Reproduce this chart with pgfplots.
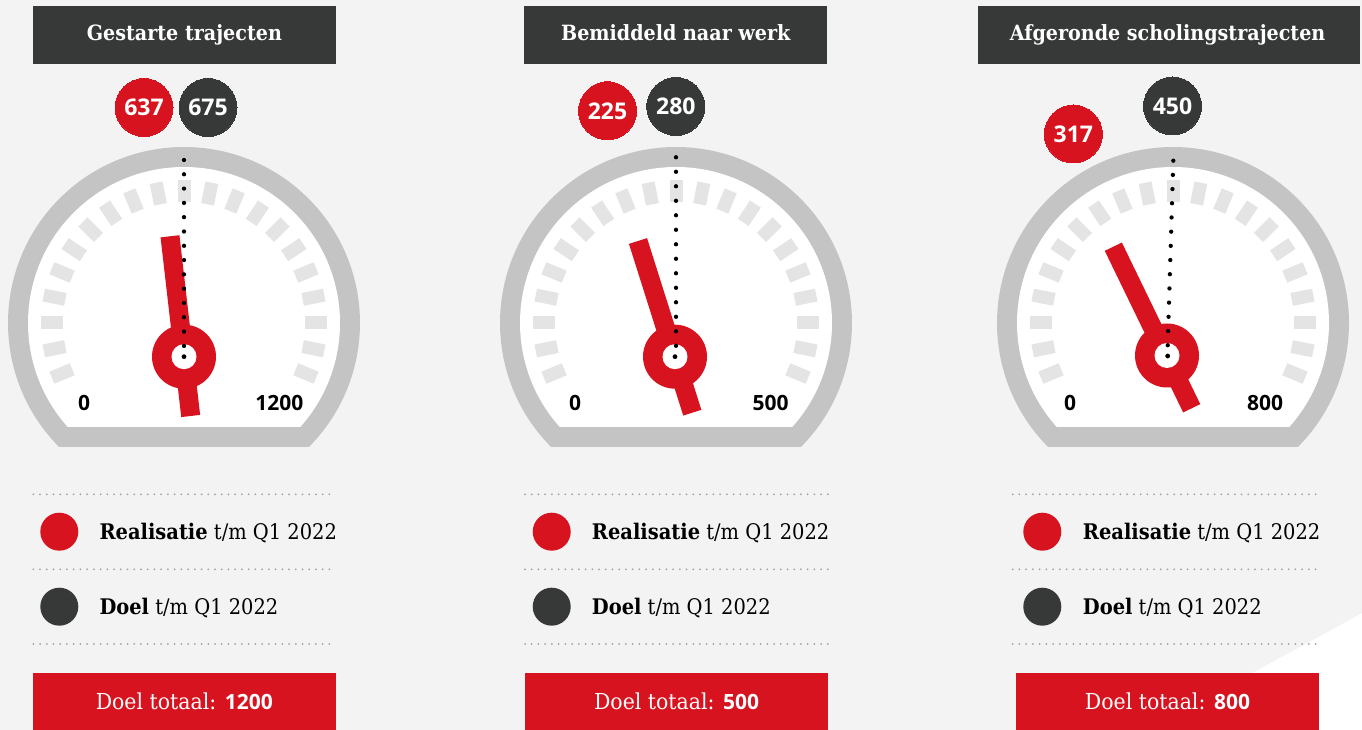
\documentclass[border=0pt]{standalone}
\usepackage{pgfplots}
\pgfplotsset{compat=1.18}
\usepackage{fontspec}
\setmainfont{DejaVu Serif}
\newfontfamily\serifT[FakeStretch=0.91]{DejaVu Serif}
\newfontfamily\serifL[FakeStretch=0.905]{DejaVu Serif}
\newfontfamily\serifD[FakeStretch=0.93]{DejaVu Serif}
\newfontfamily\numf{Open Sans}
\definecolor{gbg}{HTML}{F3F3F3}
\definecolor{gring}{HTML}{C4C4C4}
\definecolor{gtick}{HTML}{E5E4E5}
\definecolor{gred}{HTML}{D7131F}
\definecolor{gdark}{HTML}{373938}
\definecolor{gdot}{HTML}{9AA4AB}

\newcommand{\gaugebase}[1]{%
  \fill[gring] (axis cs:#1,407) ++(-44.76:176pt) arc[start angle=-44.76,end angle=224.76,radius=176pt] -- cycle;
  \fill[white] (axis cs:#1,407) ++(-41.81:156pt) arc[start angle=-41.81,end angle=221.81,radius=156pt] -- cycle;
  \begin{scope}[shift={(axis cs:#1,407)}]
    \pgfplotsinvokeforeach{202.5,191.25,180,168.75,157.5,146.25,135,123.75,112.5,101.25,90,78.75,67.5,56.25,45,33.75,22.5,11.25,0,-11.25,-22.5}{\fill[gtick,rotate=##1] (121pt,-6.5pt) rectangle (143pt,6.5pt);}
  \end{scope}}

\newcommand{\legendblock}[4]{% #1 line x0, #2 line x1, #3 circle x, #4 text x
  \draw[gdot,line width=2pt,line cap=round,dash pattern=on 0pt off 6.73pt] (axis cs:#1,235.7) -- (axis cs:#2,235.7);
  \draw[gdot,line width=2pt,line cap=round,dash pattern=on 0pt off 6.73pt] (axis cs:#1,160.7) -- (axis cs:#2,160.7);
  \draw[gdot,line width=2pt,line cap=round,dash pattern=on 0pt off 6.73pt] (axis cs:#1,86) -- (axis cs:#2,86);
  \fill[gred] (axis cs:#3,198.3) circle[radius=19pt];
  \fill[gdark] (axis cs:#3,123.3) circle[radius=19pt];
  \node[anchor=base west,inner sep=0pt,font=\serifL\fontsize{21.5}{25}\selectfont] at (axis cs:#4,190.7) {\textbf{Realisatie} t/m Q1 2022};
  \node[anchor=base west,inner sep=0pt,font=\serifL\fontsize{21.5}{25}\selectfont] at (axis cs:#4,115.7) {\textbf{Doel} t/m Q1 2022};}

\begin{document}
\begin{tikzpicture}
\begin{axis}[name=ax, width=1362pt, height=730pt, scale only axis,
  xmin=0, xmax=1362, ymin=0, ymax=730, hide axis, clip=false]
\fill[gbg] (axis cs:0,0) rectangle (axis cs:1362,730);
\fill[white] (axis cs:1148,0) -- (axis cs:1362,116.7) -- (axis cs:1362,0) -- cycle;

% ---------- titles
\fill[gdark] (axis cs:33,666) rectangle (axis cs:335.7,724);
\fill[gdark] (axis cs:524,666) rectangle (axis cs:826.7,724);
\fill[gdark] (axis cs:978,666) rectangle (axis cs:1360,724);
\node[anchor=base,text=white,inner sep=0pt,font=\serifT\bfseries\fontsize{21}{25}\selectfont] at (axis cs:184.4,689.3) {Gestarte trajecten};
\node[anchor=base,text=white,inner sep=0pt,font=\serifT\bfseries\fontsize{21}{25}\selectfont] at (axis cs:675.8,689.3) {Bemiddeld naar werk};
\node[anchor=base,text=white,inner sep=0pt,font=\serifT\bfseries\fontsize{21}{25}\selectfont] at (axis cs:1167.6,689.3) {Afgeronde scholingstrajecten};

% ---------- gauge bodies
\gaugebase{184}
\gaugebase{676}
\gaugebase{1173}

% ---------- scale labels
\node[font=\numf\bfseries\fontsize{21}{24}\selectfont] at (axis cs:84,327) {0};
\node[font=\numf\bfseries\fontsize{21}{24}\selectfont] at (axis cs:279.3,327) {1200};
\node[font=\numf\bfseries\fontsize{21}{24}\selectfont] at (axis cs:575,327) {0};
\node[font=\numf\bfseries\fontsize{21}{24}\selectfont] at (axis cs:770.7,327) {500};
\node[font=\numf\bfseries\fontsize{21}{24}\selectfont] at (axis cs:1070,327) {0};
\node[font=\numf\bfseries\fontsize{21}{24}\selectfont] at (axis cs:1265,327) {800};

% ---------- needles (realisatie)
\addplot[gred, line width=19pt, mark=none] coordinates {(190.7,314) (170,493.7)};
\addplot[gred, line width=19pt, mark=none] coordinates {(692.3,317.3) (638,489)};
\addplot[gred, line width=19pt, mark=none] coordinates {(1191.7,321.7) (1113.3,483.3)};

% hubs
\fill[gred] (axis cs:184,373.3) circle[radius=32pt];
\fill[white] (axis cs:184,373.3) circle[radius=12.5pt];
\fill[gred] (axis cs:675,373.3) circle[radius=32pt];
\fill[white] (axis cs:675,373.3) circle[radius=12.5pt];
\fill[gred] (axis cs:1167,374.5) circle[radius=32pt];
\fill[white] (axis cs:1167,374.5) circle[radius=12.5pt];

% ---------- target lines (doel)
\addplot[black, line width=4.3pt, line cap=round, dash pattern=on 0pt off 14.3pt, mark=none] coordinates {(184,570) (184,383.8)};
\addplot[black, line width=4.3pt, line cap=round, dash pattern=on 0pt off 14.5pt, mark=none] coordinates {(676,572.7) (676,383.8)};
\addplot[black, line width=4.3pt, line cap=round, dash pattern=on 0pt off 14.2pt, mark=none] coordinates {(1173.3,569.3) (1167.7,384.1)};
\addplot[only marks, mark=*, mark size=2.15pt, black] coordinates {(184,373.3) (675,373.3) (1167.7,374)};

% ---------- value bubbles
\addplot[gred, only marks, mark=*, mark size=29pt, mark options={draw=gred,fill=gred,line width=0pt},
  point meta=explicit symbolic, nodes near coords,
  nodes near coords style={anchor=center, text=white, font=\numf\bfseries\fontsize{23}{26}\selectfont}]
  coordinates {(144,622.5) [637] (607.5,619.2) [225] (1073.3,596) [317]};
\addplot[gdark, only marks, mark=*, mark size=29pt, mark options={draw=gdark,fill=gdark,line width=0pt},
  point meta=explicit symbolic, nodes near coords,
  nodes near coords style={anchor=center, text=white, font=\numf\bfseries\fontsize{23}{26}\selectfont}]
  coordinates {(208,622.5) [675] (675.8,623.5) [280] (1172.5,624) [450]};

% ---------- legends
\legendblock{33.3}{336}{59.3}{99.3}
\legendblock{525}{828.3}{551.7}{591.7}
\legendblock{1012.7}{1318.3}{1042.3}{1082.7}

% ---------- totals
\fill[gred] (axis cs:32.7,0) rectangle (axis cs:336,57.3);
\fill[gred] (axis cs:525,0) rectangle (axis cs:828.3,57.3);
\fill[gred] (axis cs:1016,0) rectangle (axis cs:1319,57.3);
\node[anchor=base,text=white,inner sep=0pt,font=\serifD\fontsize{22}{26}\selectfont] at (axis cs:184.3,20.7) {Doel totaal: {\numf\bfseries\fontsize{21}{25}\selectfont 1200}};
\node[anchor=base,text=white,inner sep=0pt,font=\serifD\fontsize{22}{26}\selectfont] at (axis cs:676.6,20.7) {Doel totaal: {\numf\bfseries\fontsize{21}{25}\selectfont 500}};
\node[anchor=base,text=white,inner sep=0pt,font=\serifD\fontsize{22}{26}\selectfont] at (axis cs:1167.5,20.7) {Doel totaal: {\numf\bfseries\fontsize{21}{25}\selectfont 800}};
\end{axis}
\pgfresetboundingbox
\path[use as bounding box] (ax.south west) rectangle (ax.north east);
\end{tikzpicture}
\end{document}
